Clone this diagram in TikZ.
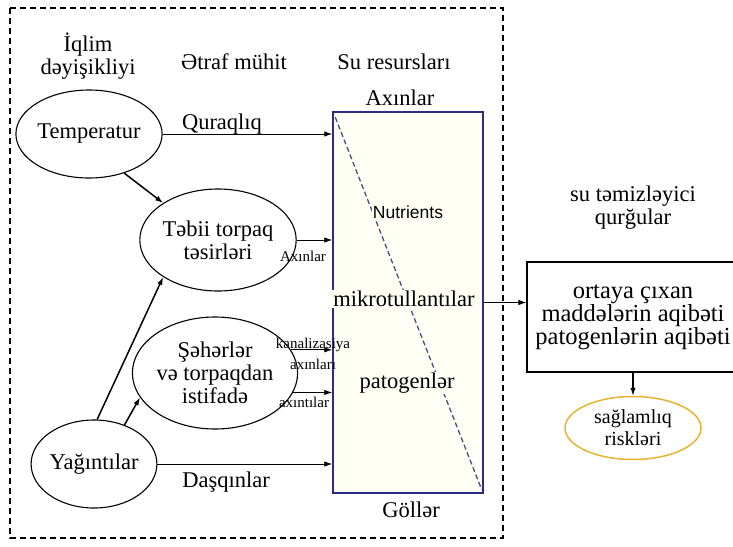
\documentclass[tikz,border=0pt]{standalone}
\usepackage{fontspec}
\setmainfont{Liberation Serif}
\newfontfamily\nutfont{Liberation Sans}
\usetikzlibrary{arrows.meta,positioning,shapes.geometric,calc}
\definecolor{LakeBlue}{RGB}{45,45,135}
\definecolor{FlowDash}{RGB}{70,80,125}
\definecolor{RiskGold}{RGB}{230,180,50}
\definecolor{PaleFill}{RGB}{255,255,246}

\begin{document}
\begin{tikzpicture}[x=1pt,y=-1pt,>={Latex[length=8pt,width=5.5pt]},
  every node/.style={font=\fontsize{22.5}{23}\selectfont},
  blob/.style={ellipse,draw,line width=1.1pt,inner sep=0pt,align=center},
  small/.style={font=\fontsize{15}{15}\selectfont,inner sep=1pt},
  flow/.style={->,line width=0.9pt},
  push/.style={->,line width=1.5pt}]
  \useasboundingbox (0,0) rectangle (733,546);
  \draw[line width=1.4pt,dash pattern=on 6pt off 4pt] (10,8) rectangle (503,538);

  % column heads
  \node[align=center] (iqlim) at (88,56) {İqlim\\dəyişikliyi};
  \node (etraf) at (234,62) {Ətraf mühit};
  \node (suhead) at (394,62) {Su resursları};

  % water resources box
  \node[draw=LakeBlue,line width=1.5pt,fill=PaleFill,minimum width=150,minimum height=381] (resurs) at (408,302.5) {};
  \draw[FlowDash,line width=1.3pt,dash pattern=on 5pt off 3pt] ($(resurs.north west)+(3,6)$) -- ($(resurs.south east)+(-2,-4)$);
  \node (axin) at (400,98) {Axınlar};
  \node (goller) at (411,510) {Göllər};
  \node[font=\nutfont\fontsize{17.5}{19}\selectfont,fill=PaleFill,inner sep=1pt] (nutr) at (408,212) {Nutrients};
  \node[fill=PaleFill,inner sep=1pt] (mikro) at (404,299) {mikrotullantılar};
  \node[fill=PaleFill,inner sep=1pt] (patog) at (407,383) {patogenlər};

  % sources
  \node[blob,minimum width=108,minimum height=88] (temp) at (89,134) {Temperatur};
  \node[blob,minimum width=132,minimum height=102] (tebii) at (218,240) {Təbii torpaq\\təsirləri};
  \node[blob,minimum width=126,minimum height=112] (sehir) at (215,373) {Şəhərlər\\və torpaqdan\\istifadə};
  \node[blob,minimum width=98,minimum height=88] (yagin) at (94,464) {Yağıntılar};

  \draw[flow] (temp.east) -- (temp.east -| resurs.west);
  \node (quraq) at (222,124) {Quraqlıq};
  \draw[flow] (tebii.east) -- (tebii.east -| resurs.west);
  \node[small] (axin2) at (303,256) {Axınlar};
  \draw[flow] (sehir.17) -- (sehir.17 -| resurs.west);
  \node[small] (kanal) at (313,345) {kanalizasiya};
  \node[small] (axin3) at (313,364) {axınları};
  \draw[flow] (sehir.-14) -- (sehir.-14 -| resurs.west);
  \node[small] (axint) at (304,402) {axıntılar};
  \draw[flow] (yagin.east) -- (yagin.east -| resurs.west);
  \node (dasq) at (226,482) {Daşqınlar};

  \draw[push] (temp.-48) -- (tebii.146);
  \draw[push] (yagin.86) -- (tebii.214);
  \draw[push] (yagin.52) -- (sehir.198);

  % treatment and risks
  \node[align=center] (qurgu) at (633,208) {su təmizləyici\\qurğular};
  \node[draw,line width=1.2pt,minimum width=212,minimum height=110,align=center,
    font=\fontsize{24.5}{22}\selectfont] (fate) at (633,317) {ortaya çıxan\\maddələrin aqibəti\\patogenlərin aqibəti};
  \draw[flow] (resurs.east) -- (resurs.east -| fate.west);
  \node[blob,draw=RiskGold,line width=1.5pt,minimum width=136,minimum height=63,
    font=\fontsize{20}{22}\selectfont] (risk) at (633,428) {sağlamlıq\\riskləri};
  \draw[push,line width=1.2pt] (fate.south) -- (risk.north);
\end{tikzpicture}
\end{document}
